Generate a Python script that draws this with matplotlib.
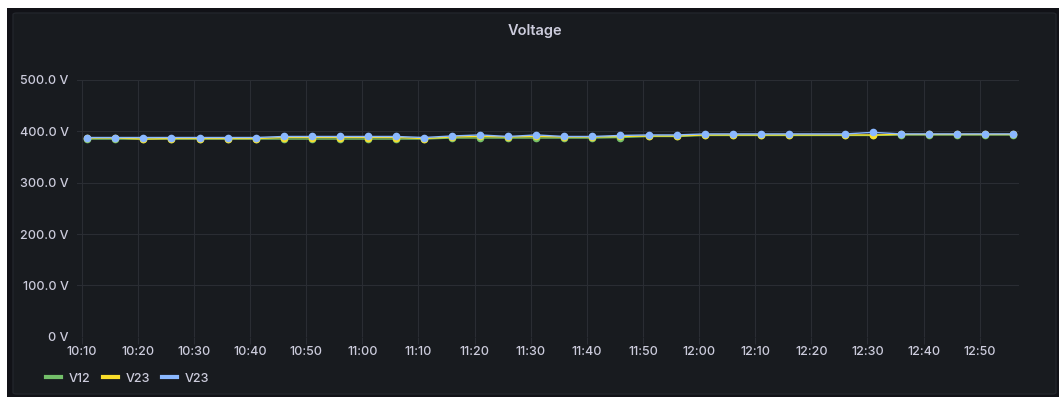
import pandas as pd
import matplotlib.pyplot as plt
import matplotlib.dates as mdates
from matplotlib.patches import Rectangle, FancyBboxPatch

plt.rcParams['font.family'] = ['Inter', 'DejaVu Sans']

# sample times (5 min steps, 12:21 missing)
times = ['10:11', '10:16', '10:21', '10:26', '10:31', '10:36', '10:41', '10:46',
         '10:51', '10:56', '11:01', '11:06', '11:11', '11:16', '11:21', '11:26',
         '11:31', '11:36', '11:41', '11:46', '11:51', '11:56', '12:01', '12:06',
         '12:11', '12:16', '12:26', '12:31', '12:36', '12:41', '12:46', '12:51',
         '12:56']
v12 = [385, 385, 385, 385, 385, 385, 385, 385, 385, 385, 385, 385, 385, 387,
       387, 387, 387, 387, 387, 388, 390, 390, 392, 392, 392, 392, 392, 392,
       393, 393, 393, 393, 393]
v23a = [387, 387, 385, 386, 386, 386, 386, 388, 388, 388, 388, 388, 386, 389,
        390, 389, 390, 389, 389, 390, 391, 391, 393, 393, 393, 393, 393, 393,
        394, 394, 394, 394, 394]
v23b = [388, 388, 388, 388, 388, 388, 388, 390, 390, 390, 390, 390, 388, 391,
        393, 390, 393, 390, 390, 392, 393, 393, 395, 395, 395, 395, 395, 398,
        395, 395, 395, 395, 395]
series = [('V12', v12, '#73bf69'), ('V23', v23a, '#fade2a'), ('V23', v23b, '#8ab8ff')]
yticks = [0, 100, 200, 300, 400, 500]

t = pd.to_datetime(['2023-01-01 ' + s for s in times])

W, H = 1059, 397
fig = plt.figure(figsize=(W / 100, H / 100), dpi=100, facecolor='white')

# page background + panel
fig.patches.append(Rectangle((7 / W, 0), 1, 1 - 8 / H, transform=fig.transFigure,
                             facecolor='#111217', edgecolor='none', zorder=-3))
fig.patches.append(FancyBboxPatch((13 / W, 3 / H), (1056 - 13) / W, (384 - 3) / H,
                                  boxstyle='round,pad=0,rounding_size=0.004',
                                  transform=fig.transFigure, facecolor='#181b1f',
                                  edgecolor='#22252b', lw=1, zorder=-2))

ax = fig.add_axes([77 / W, 1 - 336.7 / H, (1019 - 77) / W, (336.7 - 80) / H])
ax.set_facecolor('#181b1f')
for name, vals, col in series:
    ax.plot(t, vals, color=col, lw=1.0, marker='o', ms=4.5, label=name)

ax.set_ylim(0, 500)
ax.set_yticks(yticks)
ax.set_yticklabels(['0 V'] + ['%.1f V' % v for v in yticks[1:]])
ax.set_xlim(pd.Timestamp('2023-01-01 10:09:10'), pd.Timestamp('2023-01-01 12:57:00'))
ax.xaxis.set_major_locator(mdates.MinuteLocator(byminute=range(0, 60, 10)))
ax.xaxis.set_major_formatter(mdates.DateFormatter('%H:%M'))

ax.grid(True, color='#2a2d33', lw=0.8)
ax.set_axisbelow(True)
for sp in ax.spines.values():
    sp.set_visible(False)
ax.tick_params(colors='#ccccdc', labelsize=9, length=5, width=0.8)
ax.tick_params(axis='x', color='#2a2d33', pad=1.5)
ax.tick_params(axis='y', length=0, pad=6)
for lab in ax.get_xticklabels() + ax.get_yticklabels():
    lab.set_fontweight('medium')

fig.text(535 / W, 1 - 31 / H, 'Voltage', ha='center', va='center',
         color='#ccccdc', fontsize=10.5, fontweight='semibold')

leg = ax.legend(loc='upper left', bbox_to_anchor=(-0.038, -0.12), ncol=3,
                frameon=False, fontsize=9, handlelength=1.2, handletextpad=0.6,
                columnspacing=1.0, borderaxespad=0,
                prop={'size': 9, 'weight': 'medium'})
for h in leg.legend_handles:
    h.set_marker('')
    h.set_linewidth(3)
for txt in leg.get_texts():
    txt.set_color('#ccccdc')

fig.savefig('out.png', dpi=100, facecolor=fig.get_facecolor())
